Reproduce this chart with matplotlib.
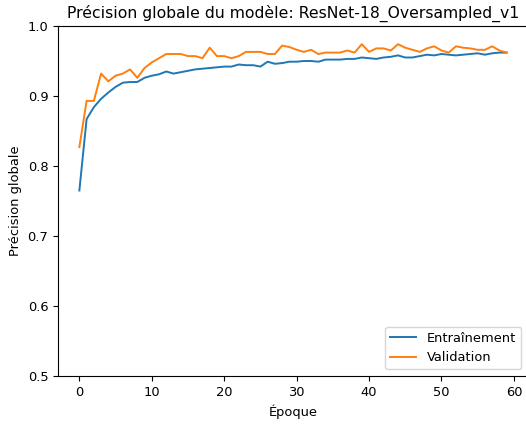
import numpy as np
import matplotlib
matplotlib.use('Agg')
import matplotlib.pyplot as plt

# accuracy per epoch
train_acc = [0.765, 0.867, 0.884, 0.896, 0.905, 0.913, 0.919, 0.920, 0.920, 0.926,
             0.929, 0.931, 0.935, 0.932, 0.934, 0.936, 0.938, 0.939, 0.940, 0.941,
             0.942, 0.942, 0.945, 0.944, 0.944, 0.942, 0.949, 0.946, 0.947, 0.949,
             0.949, 0.950, 0.950, 0.949, 0.952, 0.952, 0.952, 0.953, 0.953, 0.955,
             0.954, 0.953, 0.955, 0.956, 0.958, 0.955, 0.955, 0.957, 0.959, 0.958,
             0.960, 0.959, 0.958, 0.959, 0.960, 0.961, 0.959, 0.961, 0.962, 0.962]
val_acc = [0.827, 0.893, 0.893, 0.932, 0.921, 0.929, 0.932, 0.938, 0.926, 0.940,
           0.948, 0.954, 0.960, 0.960, 0.960, 0.957, 0.957, 0.954, 0.969, 0.957,
           0.957, 0.954, 0.957, 0.963, 0.963, 0.963, 0.960, 0.960, 0.972, 0.970,
           0.966, 0.963, 0.966, 0.960, 0.962, 0.962, 0.962, 0.965, 0.962, 0.974,
           0.963, 0.968, 0.968, 0.965, 0.974, 0.969, 0.966, 0.963, 0.968, 0.971,
           0.965, 0.962, 0.971, 0.969, 0.968, 0.966, 0.966, 0.971, 0.965, 0.962]
epochs = np.arange(len(train_acc))

plt.rcParams['font.size'] = 9.4

fig = plt.figure(figsize=(5.26, 4.25), dpi=100)
# axes run a little past the right edge, as in the cropped reference
ax = fig.add_axes([58 / 526, 49 / 425, 470 / 526, 350 / 425])

ax.plot(epochs, train_acc, label='Entraînement', linewidth=1.4)
ax.plot(epochs, val_acc, label='Validation', linewidth=1.4)
ax.set_ylim(0.5, 1.0)
ax.set_title('Précision globale du modèle: ResNet-18_Oversampled_v1', fontsize=11.25)
ax.set_xlabel('Époque')
ax.set_ylabel('Précision globale')
ax.legend(loc='lower right')
# the right edge is cut off in the reference
ax.spines['right'].set_visible(False)

fig.savefig('out.png', dpi=100)
